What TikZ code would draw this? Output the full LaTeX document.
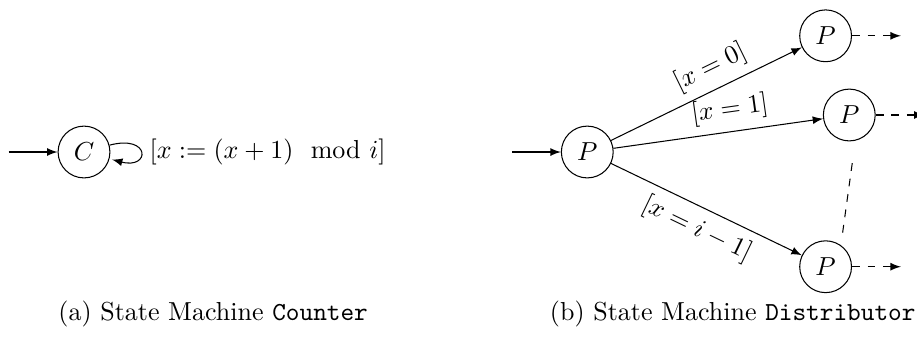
\documentclass[tikz,border=0pt]{standalone}
\usepackage{amsmath}
\usepackage{amssymb}
\usepackage{xcolor}
\usepackage{tikz}
\usetikzlibrary{automata, positioning, arrows.meta, arrows}

\begin{document}
\begin{tikzpicture}[->,>=latex,auto,node distance=3cm,on grid,
    every state/.style={minimum size=0.7cm,inner sep=1pt},
    initial text=,initial distance=0.66cm]
    \useasboundingbox (0,0) rectangle (12.39,-4.6);
    \node[state,initial] (c0) at (1.135,-2.054) {$C$};
    \node[state,initial] (p0) [right=6.8cm of c0] {$P$};
    \node[state] (p1) [above right=1.57cm and 3.22cm of p0] {$P$};
    \node[state] (p2) [above right=0.5cm and 3.54cm of p0] {$P$};
    \node[state] (p3) [below right=1.55cm and 3.22cm of p0] {$P$};

    \coordinate (o1) at ([xshift=0.66cm]p1.east);
    \coordinate (o2) at ([xshift=0.66cm]p2.east);
    \coordinate (o3) at ([xshift=0.66cm]p3.east);
    \coordinate (d1) at ([shift={(0.04,-0.65)}]p2.center);
    \coordinate (d2) at ([shift={(0.23,0.46)}]p3.center);

    \path (c0) edge[loop right] node {$[x := (x+1) \mod i]$} (c0)
          (p0) edge node[sloped,pos=0.57] {$[x = 0]$} (p1)
          (p0) edge node[sloped,pos=0.57] {$[x = 1]$} (p2)
          (p0) edge node[sloped,swap] {$[x = i-1]$} (p3)
          (p1) edge[dashed] (o1)
          (p2) edge[dashed] (o2)
          (p3) edge[dashed] (o3);
    \draw[-,dashed] (d1) -- (d2);

    % captions
    \node (capA) at (2.88,-4.24) {(a) State Machine \texttt{Counter}};
    \node (capB) at (9.9,-4.24) {(b) State Machine \texttt{Distributor}};
\end{tikzpicture}
\end{document}
